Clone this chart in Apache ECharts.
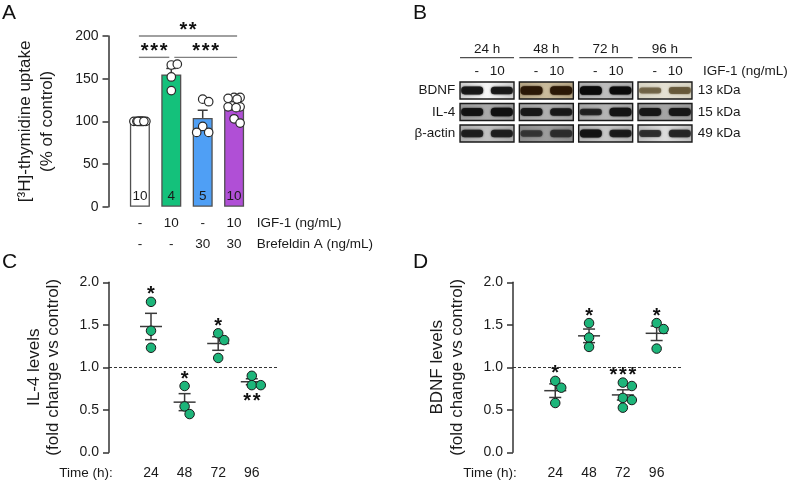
<!DOCTYPE html>
<html><head><meta charset="utf-8">
<script src="https://cdn.jsdelivr.net/npm/echarts@6/dist/echarts.min.js"></script>
<style>html,body{margin:0;padding:0;background:#fff}#c{width:790px;height:482px}</style>
</head><body><div id="c"></div>
<script>
// ================= DATA =================
// Panel A – [3H]-thymidine uptake (% of control)
const aIGF = ['-', '10', '-', '10'];
const aBref = ['-', '-', '30', '30'];
const aRowTitles = ['IGF-1 (ng/mL)', 'Brefeldin A (ng/mL)'];
const aMeans = [100, 155, 104, 118];
const aSem = [0, 7, 9, 3.3];
const aN = ['10', '4', '5', '10'];
const aPts1 = [100, 100, 100, 100, 100, 100, 100, 100, 100, 100];
const aPts2 = [166, 167, 152, 136];
const aPts3 = [126, 123, 94, 87, 87];
const aPts4 = [128, 128, 127, 126, 118, 117, 117, 116, 103, 98];
const aComparisons = [[1, 2, '***'], [2, 4, '***'], [1, 4, '**']];
const aYTicks = [0, 50, 100, 150, 200];

// Panel B – western blots
const bTimes = ['24 h', '48 h', '72 h', '96 h'];
const bLanes = ['-', '10'];
const bProteins = ['BDNF', 'IL-4', 'β-actin'];
const bKDa = ['13 kDa', '15 kDa', '49 kDa'];
const bBDNF = [0.85, 0.8, 0.95, 0.95, 1.0, 0.9, 0.4, 0.6];
const bIL4 = [0.85, 0.95, 0.85, 0.8, 0.55, 0.95, 0.85, 0.85];
const bActin = [0.8, 0.8, 0.55, 0.8, 0.9, 0.7, 0.6, 0.8];

// Panels C / D – fold change vs control
const cdTimes = ['24', '48', '72', '96'];
const cdTimeTitle = 'Time (h):';
const cPts = [[1.77, 1.43, 1.23], [0.78, 0.54, 0.45], [1.40, 1.32, 1.11], [0.90, 0.79, 0.79]];
const cMean = [1.48, 0.59, 1.28, 0.83];
const cSem = [0.155, 0.10, 0.08, 0.035];
const cSig = ['*', '*', '*', '**'];
const cSigSide = ['above', 'above', 'above', 'below'];
const dPts = [[0.84, 0.76, 0.58], [1.52, 1.35, 1.24], [0.82, 0.78, 0.64, 0.615, 0.525], [1.52, 1.45, 1.22]];
const dMean = [0.725, 1.37, 0.675, 1.40];
const dSem = [0.08, 0.08, 0.06, 0.085];
const dSig = ['*', '*', '***', '*'];
const dSigSide = ['above', 'above', 'above', 'above'];
const cdYTicks = [0, 0.5, 1.0, 1.5, 2.0];

// ================= STYLE / LAYOUT =================
const FONT = '"Liberation Sans", Arial, Helvetica, sans-serif';
const TXT = '#1a1a1a';
const AX = '#333333';
const gA = {left: 108.5, top: 36, width: 157, height: 170.7};
const gB = {left: 457.35, top: 79.75, width: 237.3, height: 64.5};
const gC = {left: 109, top: 282.3, width: 168, height: 170};
const gD = {left: 513, top: 282.3, width: 169, height: 170};
const aColors = ['#ffffff', '#14c17b', '#4f9ff5', '#b04fd6'];
const ptGreen = '#1db57a';
const starText = s => s.split('').join('\u200A');

// beeswarm placement (pixel space) -> data x positions
function swarm(groups, pxPerX, pxPerY, d, maxHalf) {
  const out = [];
  groups.forEach((vals, gi) => {
    const placed = [];
    vals.forEach(v => {
      const y = v * pxPerY;
      const cands = [0];
      for (let k = 1; k <= maxHalf; k++) cands.push(k, -k);
      let best = 0, bestScore = -Infinity;
      for (const c of cands) {
        let minD = Infinity;
        for (const p of placed) minD = Math.min(minD, Math.hypot(p[0] - c, p[1] - y));
        if (minD >= d) { best = c; break; }
        if (minD > bestScore + 0.01) { bestScore = minD; best = c; }
      }
      placed.push([best, y]);
      out.push([gi + 1 + best / pxPerX, v]);
    });
  });
  return out;
}

const aPxX = gA.width / 5, aPxY = gA.height / 200;
const aSwarm = swarm([aPts1, aPts2, aPts3, aPts4], aPxX, aPxY, 8, 6);
const cSwarm = swarm(cPts, gC.width / 5, gC.height / 2, 9, 10);
const dSwarm = swarm(dPts, gD.width / 5, gD.height / 2, 9, 10);

// bracket levels
const aLevels = (function () {
  const order = aComparisons.map((c, i) => i).sort((p, q) => (aComparisons[p][1] - aComparisons[p][0]) - (aComparisons[q][1] - aComparisons[q][0]));
  const lv = new Array(aComparisons.length).fill(0);
  const used = [];
  order.forEach(i => {
    const [s, e] = aComparisons[i];
    let l = 0;
    while ((used[l] || []).some(([s2, e2]) => s < e2 && s2 < e)) l++;
    (used[l] = used[l] || []).push([s, e]);
    lv[i] = l;
  });
  return lv;
})();
const aLevelY = [175, 200];

function errRender(halfMean, halfCap, both) {
  return function (params, api) {
    const x = api.value(0), m = api.value(1), s = api.value(2);
    const pm = api.coord([x, m]), pt = api.coord([x, m + s]), pb = api.coord([x, both ? m - s : m]);
    const st = {stroke: '#3a3a3a', lineWidth: 1.5};
    const ch = [
      {type: 'line', shape: {x1: pt[0], y1: pt[1], x2: pb[0], y2: pb[1]}, style: st},
      {type: 'line', shape: {x1: pt[0] - halfCap, y1: pt[1], x2: pt[0] + halfCap, y2: pt[1]}, style: st}
    ];
    if (both) {
      ch.push({type: 'line', shape: {x1: pb[0] - halfCap, y1: pb[1], x2: pb[0] + halfCap, y2: pb[1]}, style: st});
      ch.push({type: 'line', shape: {x1: pm[0] - halfMean, y1: pm[1], x2: pm[0] + halfMean, y2: pm[1]}, style: st});
    }
    return {type: 'group', children: ch};
  };
}

function starRender(sigs, sides) {
  return function (params, api) {
    const i = params.dataIndex;
    const p = api.coord([api.value(0), api.value(1)]);
    const above = sides[i] === 'above';
    return {type: 'text', x: p[0], y: above ? p[1] - 7 : p[1] + 16,
      style: {text: starText(sigs[i]), fontSize: 20, fontWeight: 'bold', fontFamily: FONT, fill: '#111', align: 'center', verticalAlign: 'middle'}};
  };
}

// blot styles
const bBoxFill = [
  [['#cdcdcd', '#f6f6f6'], ['#b5a584', '#c9bb9c'], ['#b0b0b0', '#bdbdbd'], ['#d8d4c3', '#e4e0d2']],
  [['#9a9a9a', '#a9a9a9'], ['#a2a2a2', '#afafaf'], ['#a5a5a5', '#b4b4b4'], ['#989898', '#a5a5a5']],
  [['#adadad', '#c0c0c0'], ['#8c8c8c', '#9c9c9c'], ['#b3b3b3', '#c6c6c6'], ['#bcbcbc', '#dcdcdc']]
];
const bBandColor = [
  ['#151515', '#2a1806', '#0a0a0a', '#5e5030'],
  ['#111111', '#161616', '#141414', '#151515'],
  ['#1a1a1a', '#2a2a2a', '#121212', '#222222']
];
const bRowsData = [bBDNF, bIL4, bActin];
const bBands = [];
bRowsData.forEach((row, r) => row.forEach((v, lane) => bBands.push([lane, r, v])));
const bBoxes = [];
bProteins.forEach((p, r) => bTimes.forEach((t, g) => bBoxes.push([g, r])));

function yAxisVal(grid, min, max, interval, fmt, name, gap, lh) {
  return {
    type: 'value', gridIndex: grid, min: min, max: max, interval: interval,
    axisLine: {show: true, onZero: false, lineStyle: {color: AX, width: 1.5}},
    axisTick: {show: true, length: 6, lineStyle: {color: AX, width: 1.5}},
    splitLine: {show: false},
    axisLabel: {fontSize: 14, color: TXT, fontFamily: FONT, margin: 10, formatter: fmt},
    name: name, nameLocation: 'middle', nameRotate: 90, nameGap: gap,
    nameTextStyle: {fontSize: 17, color: TXT, fontFamily: FONT, lineHeight: lh, align: 'center'}
  };
}

const hiddenValueX = (grid, min, max, extra) => Object.assign({
  type: 'value', gridIndex: grid, min: min, max: max,
  axisLine: {show: false, onZero: false}, axisTick: {show: false}, splitLine: {show: false}
}, extra);

const option = {
  animation: false,
  backgroundColor: '#ffffff',
  grid: [gA, gB, gC, gD].map(g => Object.assign({containLabel: false}, g)),
  xAxis: [
    hiddenValueX(0, 0, 5, {interval: 1, axisLabel: {
      fontSize: 13.5, color: TXT, fontFamily: FONT, margin: 6, lineHeight: 21,
      formatter: v => (v >= 1 && v <= 4) ? aIGF[v - 1] + '\n' + aBref[v - 1] : ''}}),
    {type: 'category', gridIndex: 1, position: 'top', data: bTimes,
      axisLine: {show: false}, axisTick: {show: false},
      axisLabel: {interval: 0, fontSize: 13.5, color: TXT, fontFamily: FONT, margin: 23}},
    {type: 'category', gridIndex: 1, position: 'top',
      data: bTimes.flatMap(() => bLanes),
      axisLine: {show: false}, axisTick: {show: false},
      axisLabel: {interval: 0, fontSize: 13.5, color: TXT, fontFamily: FONT, margin: 1,
        formatter: (v, i) => (i % 2 === 0 ? '{l|' + v + '}' : '{r|' + v + '}'),
        rich: {l: {padding: [0, 0, 0, 9], fontSize: 13.5, fontFamily: FONT, color: TXT},
               r: {padding: [0, 9, 0, 0], fontSize: 13.5, fontFamily: FONT, color: TXT}}}},
    hiddenValueX(2, -0.25, 4.75, {axisLabel: {customValues: [1, 2, 3, 4], fontSize: 14, color: TXT, fontFamily: FONT, margin: 14,
      formatter: v => (Math.abs(v - Math.round(v)) < 1e-6 && v >= 1 && v <= 4) ? cdTimes[Math.round(v) - 1] : ''}}),
    hiddenValueX(3, -0.25, 4.75, {axisLabel: {customValues: [1, 2, 3, 4], fontSize: 14, color: TXT, fontFamily: FONT, margin: 14,
      formatter: v => (Math.abs(v - Math.round(v)) < 1e-6 && v >= 1 && v <= 4) ? cdTimes[Math.round(v) - 1] : ''}})
  ],
  yAxis: [
    yAxisVal(0, aYTicks[0], aYTicks[aYTicks.length - 1], 50, v => String(v), '[³H]-thymidine uptake\n(% of control)', 50, 22),
    {type: 'category', gridIndex: 1, data: bProteins, inverse: true,
      axisLine: {show: false}, axisTick: {show: false},
      axisLabel: {fontSize: 13.5, color: TXT, fontFamily: FONT, margin: 2}},
    {type: 'category', gridIndex: 1, data: bKDa, inverse: true, position: 'right',
      axisLine: {show: false}, axisTick: {show: false},
      axisLabel: {fontSize: 13.5, color: TXT, fontFamily: FONT, margin: 3}},
    yAxisVal(2, cdYTicks[0], cdYTicks[cdYTicks.length - 1], 0.5, v => v.toFixed(1), 'IL-4 levels\n(fold change vs control)', 46, 19),
    yAxisVal(3, cdYTicks[0], cdYTicks[cdYTicks.length - 1], 0.5, v => v.toFixed(1), 'BDNF levels\n(fold change vs control)', 46, 20)
  ],
  series: [
    // ---- Panel A ----
    {type: 'bar', xAxisIndex: 0, yAxisIndex: 0, barWidth: 20,
      data: aMeans.map((m, i) => ({value: [i + 1, m], itemStyle: {color: aColors[i]}})),
      itemStyle: {borderColor: '#505050', borderWidth: 1.3},
      label: {show: true, position: 'insideBottom', distance: 3, fontSize: 13.5, color: TXT, fontFamily: FONT,
        formatter: p => aN[p.dataIndex]}},
    {type: 'custom', xAxisIndex: 0, yAxisIndex: 0,
      data: aMeans.map((m, i) => [i + 1, m, aSem[i]]).filter(d => d[2] > 0),
      renderItem: errRender(0, 5, false)},
    {type: 'scatter', xAxisIndex: 0, yAxisIndex: 0, data: aSwarm, symbolSize: 8.5,
      itemStyle: {color: '#ffffff', borderColor: '#2a2a2a', borderWidth: 1.2, opacity: 1}},
    {type: 'custom', xAxisIndex: 0, yAxisIndex: 0,
      data: aComparisons.map((c, i) => [c[0], c[1], aLevels[i]]),
      renderItem: function (params, api) {
        const i = params.dataIndex;
        const s = api.value(0), e = api.value(1), l = api.value(2);
        const y = aLevelY[l];
        const sharedL = aComparisons.some((c, k) => k !== i && aLevels[k] === l && c[1] === s);
        const sharedR = aComparisons.some((c, k) => k !== i && aLevels[k] === l && c[0] === e);
        const p1 = api.coord([s, y]), p2 = api.coord([e, y]);
        const x1 = p1[0] + (sharedL ? 3 : -1), x2 = p2[0] + (sharedR ? -2 : 3);
        return {type: 'group', children: [
          {type: 'line', shape: {x1: x1, y1: p1[1], x2: x2, y2: p1[1]}, style: {stroke: '#808080', lineWidth: 1.4}},
          {type: 'text', x: (x1 + x2) / 2, y: p1[1] - 6,
            style: {text: starText(aComparisons[i][2]), fontSize: 20, fontWeight: 'bold', fontFamily: FONT, fill: '#111', align: 'center', verticalAlign: 'middle'}}
        ]};
      }},
    // ---- Panel B ----
    {type: 'custom', xAxisIndex: 1, yAxisIndex: 1, data: bBoxes,
      renderItem: function (params, api) {
        const g = api.value(0), r = api.value(1);
        const c = api.coord([g, r]);
        const sz = api.size([1, 1]);
        const bw = sz[0] * 0.91, bh = sz[1] * 0.79;
        const x0 = c[0] - bw / 2, y0 = c[1] - bh / 2;
        const f = bBoxFill[r][g];
        const ch = [{type: 'rect', shape: {x: x0, y: y0, width: bw, height: bh},
          style: {fill: {type: 'linear', x: 0, y: 0, x2: 1, y2: 0, colorStops: [
            {offset: 0, color: f[0]}, {offset: 0.5, color: f[1]}, {offset: 1, color: f[0]}]},
            stroke: '#1a1a1a', lineWidth: 1.4}}];
        if (r === 0) ch.push({type: 'line', shape: {x1: x0, y1: y0 - 24.3, x2: x0 + bw, y2: y0 - 24.3}, style: {stroke: '#222', lineWidth: 1}});
        return {type: 'group', children: ch};
      }},
    {type: 'custom', xAxisIndex: 2, yAxisIndex: 1, data: bBands,
      renderItem: function (params, api) {
        const lane = api.value(0), r = api.value(1), v = api.value(2);
        const c = api.coord([lane, r]);
        const g = Math.floor(lane / 2);
        const w = 22, h = 4.5 + 4 * v;
        const col = bBandColor[r][g];
        return {type: 'rect', shape: {x: c[0] - w / 2, y: c[1] - h / 2, width: w, height: h, r: h / 2.2},
          style: {fill: col, opacity: 0.4 + 0.6 * v, shadowBlur: 2, shadowColor: col}};
      }},
    // ---- Panel C ----
    {type: 'scatter', xAxisIndex: 3, yAxisIndex: 3, data: cSwarm, symbolSize: 9.5,
      itemStyle: {color: ptGreen, borderColor: '#1a1a1a', borderWidth: 1, opacity: 1},
      markLine: {silent: true, symbol: 'none', label: {show: false},
        lineStyle: {type: [3, 2], color: '#333', width: 1}, data: [{yAxis: 1}]}},
    {type: 'custom', xAxisIndex: 3, yAxisIndex: 3, data: cMean.map((m, i) => [i + 1, m, cSem[i]]),
      renderItem: errRender(11, 6, true)},
    {type: 'custom', xAxisIndex: 3, yAxisIndex: 3,
      data: cPts.map((p, i) => [i + 1, cSigSide[i] === 'above' ? Math.max(...p) : Math.min(...p)]),
      renderItem: starRender(cSig, cSigSide)},
    // ---- Panel D ----
    {type: 'scatter', xAxisIndex: 4, yAxisIndex: 4, data: dSwarm, symbolSize: 9.5,
      itemStyle: {color: ptGreen, borderColor: '#1a1a1a', borderWidth: 1, opacity: 1},
      markLine: {silent: true, symbol: 'none', label: {show: false},
        lineStyle: {type: [3, 2], color: '#333', width: 1}, data: [{yAxis: 1}]}},
    {type: 'custom', xAxisIndex: 4, yAxisIndex: 4, data: dMean.map((m, i) => [i + 1, m, dSem[i]]),
      renderItem: errRender(11, 6, true)},
    {type: 'custom', xAxisIndex: 4, yAxisIndex: 4,
      data: dPts.map((p, i) => [i + 1, dSigSide[i] === 'above' ? Math.max(...p) : Math.min(...p)]),
      renderItem: starRender(dSig, dSigSide)}
  ],
  graphic: [
    {type: 'text', x: 2, y: 3, style: {text: 'A', fontSize: 21, fontFamily: FONT, fill: '#111'}},
    {type: 'text', x: 413, y: 3, style: {text: 'B', fontSize: 21, fontFamily: FONT, fill: '#111'}},
    {type: 'text', x: 2, y: 252, style: {text: 'C', fontSize: 21, fontFamily: FONT, fill: '#111'}},
    {type: 'text', x: 413, y: 252, style: {text: 'D', fontSize: 21, fontFamily: FONT, fill: '#111'}},
    {type: 'text', x: 256.7, y: 223.5, style: {text: aRowTitles[0], fontSize: 13.5, fontFamily: FONT, fill: TXT, align: 'left', verticalAlign: 'middle'}},
    {type: 'text', x: 256.7, y: 244.5, style: {text: aRowTitles[1], fontSize: 13.5, fontFamily: FONT, fill: TXT, align: 'left', verticalAlign: 'middle'}},
    {type: 'text', x: 703, y: 71, style: {text: aRowTitles[0], fontSize: 13.5, fontFamily: FONT, fill: TXT, align: 'left', verticalAlign: 'middle'}},
    {type: 'text', x: 59.3, y: 473.5, style: {text: cdTimeTitle, fontSize: 13.5, fontFamily: FONT, fill: TXT, align: 'left', verticalAlign: 'middle'}},
    {type: 'text', x: 463.3, y: 473.5, style: {text: cdTimeTitle, fontSize: 13.5, fontFamily: FONT, fill: TXT, align: 'left', verticalAlign: 'middle'}}
  ]
};

const chart = echarts.init(document.getElementById('c'), null, {renderer: 'canvas'});
chart.setOption(option);
</script>
</body></html>
